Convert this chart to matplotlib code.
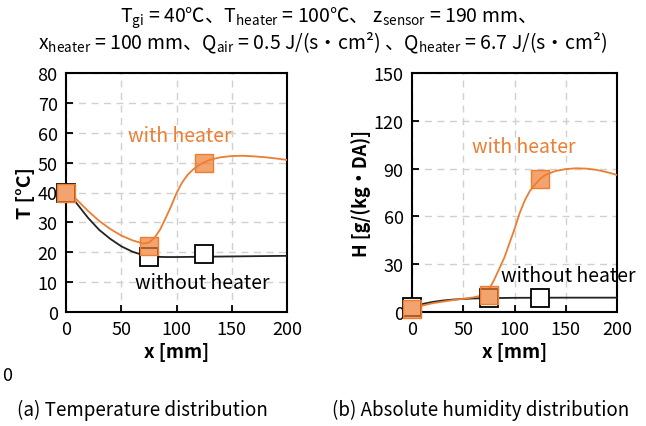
import numpy as np
import matplotlib
matplotlib.use("Agg")
import matplotlib.pyplot as plt

plt.rcParams['font.family'] = ['Noto Sans CJK JP', 'DejaVu Sans']
plt.rcParams['mathtext.fontset'] = 'custom'
plt.rcParams['mathtext.rm'] = 'Noto Sans CJK JP'
plt.rcParams['mathtext.it'] = 'Noto Sans CJK JP'

ORANGE = '#ED7D31'

# measured points
x_pts = [0, 75, 125]
T_with = [40, 22, 50]
T_without = [40, 18.5, 19.5]
H_with = [2, 10.5, 83.5]
H_without = [3, 9, 9]

# simulated curves
xT_with = [0, 5, 10, 20, 30, 40, 50, 60, 70, 75, 80, 85, 90, 95, 100, 105, 110,
           115, 120, 125, 130, 140, 150, 160, 170, 180, 190, 200]
T_with_c = [40, 39.2, 37.5, 33.8, 30.5, 27.8, 25.6, 24.0, 22.9, 23.2, 24.8, 27.5,
            31.3, 35.3, 39.8, 43.3, 45.9, 47.7, 49.1, 50.1, 50.9, 51.8, 52.2,
            52.3, 52.1, 51.8, 51.4, 50.9]
xT_without = [3, 5, 10, 20, 30, 40, 50, 60, 70, 80, 90, 100, 125, 150, 200]
T_without_c = [39.3, 38.6, 36.2, 31.5, 27.5, 24.5, 22.0, 20.2, 19.0, 18.5, 18.4,
               18.4, 18.5, 18.6, 18.8]

xH_with = [0, 10, 20, 30, 40, 50, 60, 70, 75, 80, 85, 90, 95, 100, 105, 110, 115,
           120, 125, 130, 140, 150, 160, 170, 180, 190, 200]
H_with_c = [2, 4, 5.5, 6.5, 7.5, 8.3, 9.2, 10.5, 14, 20, 27, 34, 43, 52, 62, 70,
            76, 80, 83.5, 86, 88.5, 89.7, 90.2, 90, 89.2, 87.8, 86]
xH_without = [0, 10, 20, 30, 40, 50, 60, 75, 100, 150, 200]
H_without_c = [3, 5, 6.3, 7.2, 7.8, 8.2, 8.5, 8.7, 8.9, 9, 9]

fig = plt.figure(figsize=(6.46, 4.27), dpi=100)
ax1 = fig.add_axes([66/646, 1-313/427, 221/646, 239/427])
ax2 = fig.add_axes([412/646, 1-313/427, 205/646, 239/427])


def style(ax, ymax, ystep):
    ax.set_xlim(0, 200)
    ax.set_ylim(0, ymax)
    ax.set_xticks(np.arange(0, 201, 50))
    ax.set_yticks(np.arange(0, ymax + 1, ystep))
    ax.grid(True, color='#d0d0d0', linestyle=(0, (5, 4)), linewidth=1)
    ax.set_axisbelow(True)
    ax.tick_params(direction='in', length=5, width=1.3, labelsize=13, pad=6,
                   colors='black')
    for s in ax.spines.values():
        s.set_linewidth(1.5)
    ax.set_xlabel('x [mm]', fontsize=13.5, fontweight='bold', labelpad=3)


def draw(ax, xw, yw, xo, yo, ptw, pto):
    ax.plot(xo, yo, color='#222222', lw=1.3, zorder=3)
    ax.plot(xw, yw, color=ORANGE, lw=1.3, zorder=3)
    ax.plot(x_pts, pto, 's', ms=12.5, mfc='white', mec='black', mew=1.3,
            zorder=4, clip_on=False)
    ax.plot(x_pts, ptw, 's', ms=12.5, mfc=(0.93, 0.49, 0.19, 0.7), mec=ORANGE,
            mew=1.0, zorder=5, clip_on=False)


style(ax1, 80, 10)
draw(ax1, xT_with, T_with_c, xT_without, T_without_c, T_with, T_without)
ax1.set_ylabel('T [°C]', fontsize=14, fontweight='bold', labelpad=2)
ax1.text(103, 59, 'with heater', color=ORANGE, fontsize=14, ha='center', va='center')
ax1.text(123, 10, 'without heater', color='black', fontsize=14, ha='center', va='center')

style(ax2, 150, 30)
draw(ax2, xH_with, H_with_c, xH_without, H_without_c, H_with, H_without)
ax2.set_ylabel('H [g/(kg・DA)]', fontsize=13, fontweight='bold', labelpad=2)
ax2.text(109, 104, 'with heater', color=ORANGE, fontsize=14, ha='center', va='center')
ax2.text(152, 23, 'without heater', color='black', fontsize=14, ha='center', va='center')

fig.text(0.5, 1-18/427,
         r'T$_{\rm gi}$ = 40℃、T$_{\rm heater}$ = 100℃、 z$_{\rm sensor}$ = 190 mm、',
         ha='center', va='center', fontsize=14)
fig.text(0.5, 1-43/427,
         r'x$_{\rm heater}$ = 100 mm、Q$_{\rm air}$ = 0.5 J/(s・cm²) 、Q$_{\rm heater}$ = 6.7 J/(s・cm²)',
         ha='center', va='center', fontsize=14)

fig.text(2/646, 1-376/427, '0', ha='left', va='center', fontsize=13)
fig.text(142/646, 1-410/427, '(a) Temperature distribution', ha='center',
         va='center', fontsize=13.5)
fig.text(481/646, 1-410/427, '(b) Absolute humidity distribution', ha='center',
         va='center', fontsize=13.5)

fig.savefig('out.png', dpi=100)
